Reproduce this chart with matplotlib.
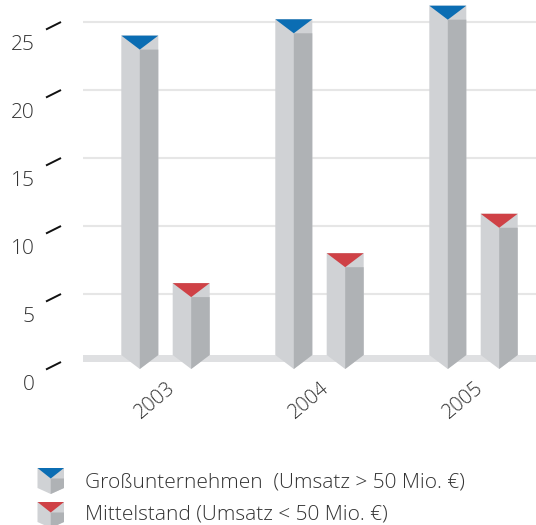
import matplotlib
matplotlib.use("Agg")
import matplotlib.pyplot as plt
from matplotlib.patches import Polygon
from matplotlib.transforms import blended_transform_factory

# ---- data ----
years = ["2003", "2004", "2005"]
gross = [24.0, 25.2, 26.2]
mittel = [5.8, 8.0, 10.9]
yticks = [0, 5, 10, 15, 20, 25]
legend_labels = ["Großunternehmen  (Umsatz > 50 Mio. €)",
                 "Mittelstand (Umsatz < 50 Mio. €)"]

# ---- style ----
W, H, DPI = 536, 525, 100
LIGHT = "#d0d2d5"
DARK = "#afb2b5"
BLUE = "#0b6db3"
RED = "#cf4146"
GRID = "#e6e6e6"
BAND = "#dfe0e2"
TXT = "#333333"
FONT = ["Open Sans", "DejaVu Sans"]

plt.rcParams["font.family"] = FONT

fig = plt.figure(figsize=(W / DPI, H / DPI), dpi=DPI)

# axes pixel box: left 83, right 536, top 0, bottom 380
PX_PER_UNIT_Y = 13.6
ZERO_PIX = 362
ax_top, ax_bot = 0, 380
ymax = (ZERO_PIX - ax_top) / PX_PER_UNIT_Y
ymin = (ZERO_PIX - ax_bot) / PX_PER_UNIT_Y
PX_PER_UNIT_X = 154.0
GROUP0_PIX = 165.5
ax_left, ax_right = 83, 536
xmin = (ax_left - GROUP0_PIX) / PX_PER_UNIT_X
xmax = (ax_right - GROUP0_PIX) / PX_PER_UNIT_X

ax = fig.add_axes([ax_left / W, 1 - ax_bot / H, (ax_right - ax_left) / W, (ax_bot - ax_top) / H])
ax.set_xlim(xmin, xmax)
ax.set_ylim(ymin, ymax)
ax.axis("off")

# gridlines
for v in yticks[1:]:
    ax.axhline(v, color=GRID, lw=1.5, zorder=1)
# floor band
BAND_H = 7 / PX_PER_UNIT_Y
ax.axhspan(0, BAND_H, color=BAND, lw=0, zorder=1)

# bars
OFFSET = 25.7 / PX_PER_UNIT_X
HALF = 18.5 / PX_PER_UNIT_X
D = 14 / PX_PER_UNIT_Y


def draw_bar(xc, top, cap_color):
    x0, x1 = xc - HALF, xc + HALF
    b = BAND_H
    light = Polygon([(x0, top), (x1, top), (x1, b), (xc, b - D), (x0, b)],
                    closed=True, facecolor=LIGHT, edgecolor="none", zorder=3)
    dark = Polygon([(xc, top - D), (x1, top - D), (x1, b), (xc, b - D)],
                   closed=True, facecolor=DARK, edgecolor="none", zorder=4)
    cap = Polygon([(x0, top), (x1, top), (xc, top - D)],
                  closed=True, facecolor=cap_color, edgecolor="none", zorder=5)
    for p in (light, dark, cap):
        ax.add_patch(p)


for i, (g, m) in enumerate(zip(gross, mittel)):
    draw_bar(i - OFFSET, g, BLUE)
    draw_bar(i + OFFSET, m, RED)

# x labels
for i, yr in enumerate(years):
    ax.text(i - 10.5 / PX_PER_UNIT_X, (ZERO_PIX - 400) / PX_PER_UNIT_Y, yr,
            rotation=40, ha="center", va="center", fontsize=14.5,
            color=TXT, fontweight="light", clip_on=False)

# y ticks (slanted) and labels
tr = blended_transform_factory(fig.transFigure, ax.transData)
for v in yticks:
    ax.plot([46 / W, 61 / W], [v - 7.5 / PX_PER_UNIT_Y, v], transform=tr,
            color="#111111", lw=1.4, solid_capstyle="butt", clip_on=False, zorder=6)
    ax.text(34.5 / W, v - 28 / PX_PER_UNIT_Y, str(v), transform=tr,
            ha="right", va="baseline", fontsize=15, color=TXT,
            fontweight="light", clip_on=False)

# legend
def fx(px):
    return px / W


def fy(py):
    return 1 - py / H


def legend_icon(top_py, color):
    x0, x1, xc = 37.5, 64, 50.75
    d = 10.5
    bottom = top_py + 20
    light = Polygon([(fx(x0), fy(top_py)), (fx(x1), fy(top_py)), (fx(x1), fy(bottom)),
                     (fx(xc), fy(bottom + 6)), (fx(x0), fy(bottom))],
                    closed=True, transform=fig.transFigure, facecolor=LIGHT, edgecolor="none")
    dark = Polygon([(fx(xc), fy(top_py + d)), (fx(x1), fy(top_py + d)), (fx(x1), fy(bottom)),
                    (fx(xc), fy(bottom + 6))],
                   closed=True, transform=fig.transFigure, facecolor=DARK, edgecolor="none")
    cap = Polygon([(fx(x0), fy(top_py)), (fx(x1), fy(top_py)), (fx(xc), fy(top_py + d))],
                  closed=True, transform=fig.transFigure, facecolor=color, edgecolor="none")
    for p in (light, dark, cap):
        fig.add_artist(p)


legend_icon(468, BLUE)
legend_icon(502, RED)
fig.text(fx(85), fy(488), legend_labels[0], ha="left", va="baseline",
         fontsize=15, color=TXT, fontweight="light")
fig.text(fx(85), fy(520), legend_labels[1], ha="left", va="baseline",
         fontsize=15, color=TXT, fontweight="light")

fig.savefig("out.png", dpi=DPI)
